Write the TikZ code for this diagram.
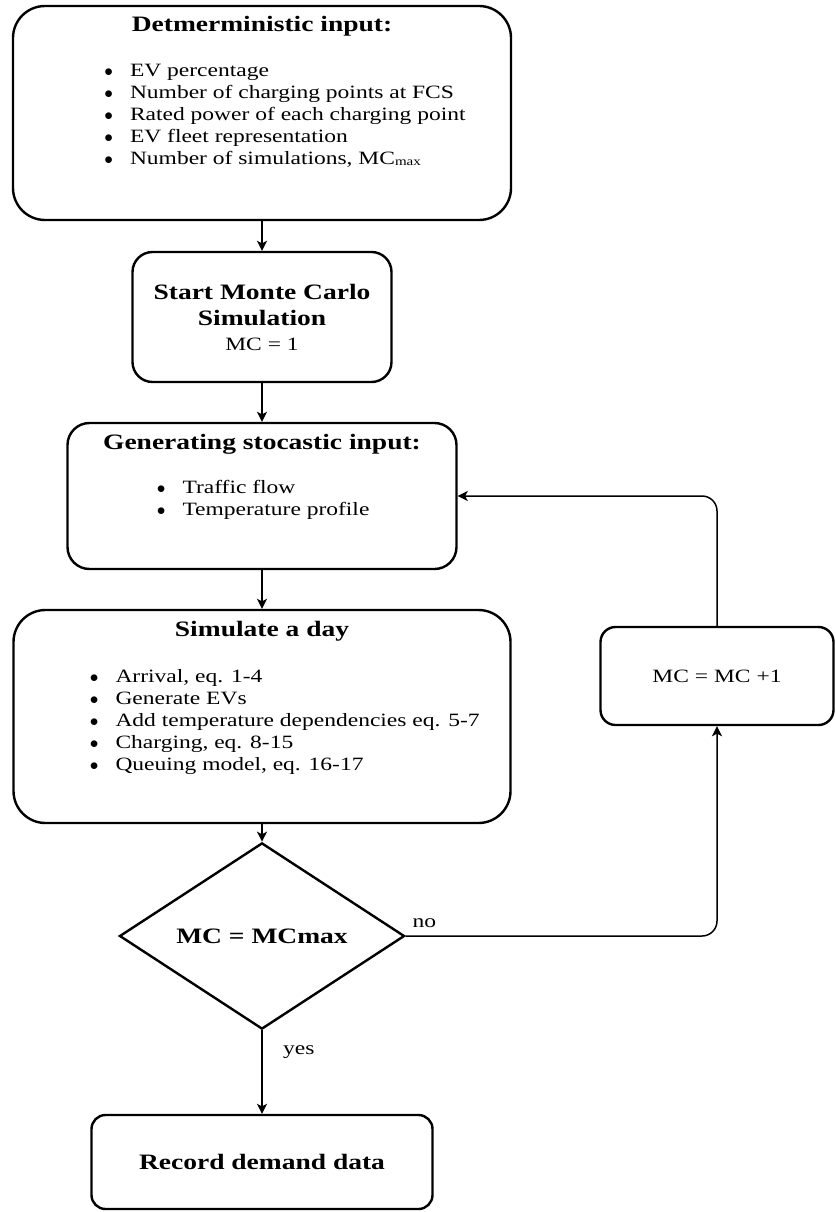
\documentclass[tikz,border=0pt]{standalone}
\usepackage{fontspec}
\setmainfont{Liberation Serif}[FakeStretch=1.25]
\usetikzlibrary{shapes.geometric,arrows.meta}
\tikzstyle{block} = [ rectangle, draw, line width=2.4pt, inner sep=0pt, rounded corners=20pt]
\tikzstyle{decision} = [ diamond, draw, line width=2.4pt, inner sep=0pt, minimum width=285pt, minimum height=162pt]
\tikzstyle{line} = [ draw, line width=1.5pt, -{Stealth[length=10pt, width=10pt, inset=2.5pt]}]
\newcommand{\hdrfont}{\fontsize{22}{26}\selectfont\bfseries}
\newcommand{\hdr}[1]{{\hdrfont\rule{0pt}{26pt}#1\par}}
\newcommand{\itm}[1]{\par\leavevmode\llap{$\bullet$\hspace{17pt}}#1}
\newcommand{\topbody}[3]{\begin{minipage}[c][#2][t]{#1}#3\end{minipage}}

\begin{document}
\begin{tikzpicture}[node distance=200pt, auto, font=\fontsize{18.8}{22}\selectfont]
  \useasboundingbox (0,0) rectangle (835pt,-1212pt);
  \node [block, rounded corners=32pt] (det_input) at (262pt,-113pt) {\topbody{498pt}{214pt}{\centering\hdr{Detmerministic input:}\vspace{23pt}\raggedright\leftskip=117pt
    \itm{EV percentage}\itm{Number of charging points at FCS}\itm{Rated power of each charging point}\itm{EV fleet representation}\itm{Number of simulations, MC\raisebox{-1pt}{\fontsize{12}{12}\selectfont max}}}};
  \node [block, minimum width=259pt, minimum height=130pt, node distance=204pt, below of=det_input] (start_mc) {\begin{minipage}{259pt}\centering{\hdrfont Start Monte Carlo\\Simulation\par}\vspace{3pt}MC = 1\end{minipage}};

  \node [block, rounded corners=22pt, node distance=179pt, below of=start_mc] (stoch_input) {\topbody{389pt}{146pt}{\centering\hdr{Generating stocastic input:}\vspace{22pt}\raggedright\leftskip=115pt
    \itm{Traffic flow}\itm{Temperature profile}}};

  \node [block, rounded corners=32pt, node distance=220.5pt, below of=stoch_input] (sim_day) {\topbody{497pt}{213pt}{\centering\hdr{Simulate a day}\vspace{24pt}\raggedright\leftskip=102pt
    \itm{Arrival, eq. 1-4}\itm{Generate EVs}\itm{Add temperature dependencies eq. 5-7}\itm{Charging, eq. 8-15}\itm{Queuing model, eq. 16-17}}};

  \node [decision, node distance=219.5pt, below of=sim_day] (mc_check) {\hdrfont MC = MCmax};
  \node [block, rounded corners=14pt, minimum width=341pt, minimum height=94pt, node distance=226pt, below of=mc_check] (record) {\hdrfont Record demand data};

  \node [block, rounded corners=15pt, minimum width=233pt, minimum height=98pt, node distance=455pt, right of=sim_day, yshift=40.5pt] (mc_inc) {MC = MC +1};

  \path [line] (det_input) -- (start_mc);
  \path [line] (start_mc) -- (stoch_input);
  \path [line] (stoch_input) -- (sim_day);
  \path [line] (sim_day) -- (mc_check);
  \path [line] (mc_check) -- node [pos=0.26, xshift=17pt] {yes} (record);
  \path [line, rounded corners=15pt] (mc_check.east) -| node [pos=0.03, yshift=4pt] {no} (mc_inc.south);
  \path [line, rounded corners=15pt] (mc_inc.north) |- (stoch_input.east);
\end{tikzpicture}
\end{document}
